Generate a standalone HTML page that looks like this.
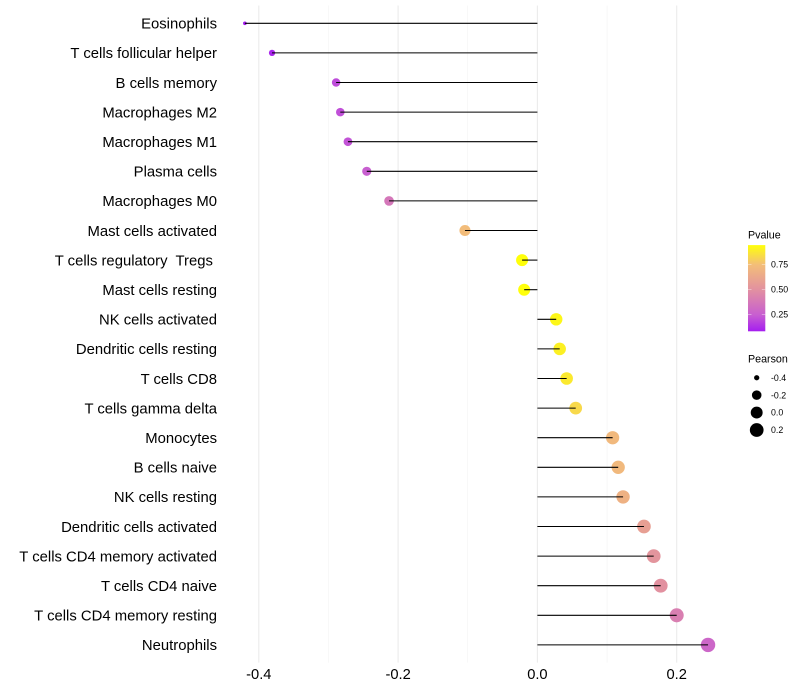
<!DOCTYPE html>
<html lang="en">
<head>
<meta charset="utf-8">
<title>Immune cell correlation lollipop chart</title>
<style>
html,body{margin:0;padding:0;background:#fff;width:800px;height:700px;overflow:hidden}
svg{display:block;font-family:"Liberation Sans",Arial,sans-serif}
text{white-space:pre}
</style>
</head>
<body>
<svg id="chart" width="800" height="700" viewBox="0 0 800 700" xmlns="http://www.w3.org/2000/svg">
  <rect width="800" height="700" fill="#ffffff"/>
  <g id="grid"></g>
  <g id="y-labels"></g>
  <g id="x-labels"></g>
  <g id="marks"></g>
  <g id="legend-p">
    <text x="748" y="238.6" font-size="10.7" fill="#000">Pvalue</text>
    <defs><linearGradient id="pgrad" x1="0" y1="1" x2="0" y2="0"></linearGradient></defs>
    <rect id="pbar" x="748" width="17.3" fill="url(#pgrad)"/>
  </g>
  <g id="legend-s">
    <text x="748" y="362.6" font-size="10.7" fill="#000">Pearson</text>
  </g>
</svg>
<script>
const categories = ["Eosinophils","T cells follicular helper","B cells memory","Macrophages M2","Macrophages M1","Plasma cells","Macrophages M0","Mast cells activated","T cells regulatory  Tregs ","Mast cells resting","NK cells activated","Dendritic cells resting","T cells CD8","T cells gamma delta","Monocytes","B cells naive","NK cells resting","Dendritic cells activated","T cells CD4 memory activated","T cells CD4 naive","T cells CD4 memory resting","Neutrophils"];
const pearson = [-0.42,-0.381,-0.289,-0.283,-0.272,-0.245,-0.213,-0.104,-0.022,-0.019,0.027,0.032,0.042,0.055,0.108,0.116,0.123,0.153,0.167,0.177,0.2,0.245];
const pvalues = [0.08,0.10,0.20,0.21,0.22,0.25,0.37,0.74,0.945,0.945,0.92,0.90,0.88,0.83,0.72,0.72,0.68,0.58,0.52,0.5,0.41,0.29];
const xTicks = [-0.4,-0.2,0,0.2];
const xMinorTicks = [-0.3,-0.1,0.1];
const xTickLabels = ["-0.4","-0.2","0.0","0.2"];
const pTicks = [0.25,0.5,0.75];
const pTickLabels = ["0.25","0.50","0.75"];
const sizeTicks = [-0.4,-0.2,0,0.2];
const sizeTickLabels = ["-0.4","-0.2","0.0","0.2"];

const NS = "http://www.w3.org/2000/svg";
function make(tag, attrs, parent, txt){
  const el = document.createElementNS(NS, tag);
  for (const k in attrs) el.setAttribute(k, attrs[k]);
  if (txt !== undefined) el.textContent = txt;
  parent.appendChild(el);
  return el;
}
function slug(s){ return s.trim().toLowerCase().replace(/[^a-z0-9]+/g,'-'); }

// axis functions
const panelTop = 5.54, panelBottom = 662.66;
const xScale = v => 537.4 + v * 696.5;
const rowStep = (panelBottom - panelTop) / (categories.length - 1 + 1.2);
const yScale = i => panelTop + (i + 0.6) * rowStep;
const rScale = v => {
  const lo = Math.min(...pearson), hi = Math.max(...pearson);
  const t = Math.max(0, (v - lo) / (hi - lo));
  return 1.6 + 5.35 * Math.sqrt(t);
};
const pY = p => 314.6 - (p - 0.25) * 100;
const pMin = 0.083, pMax = 0.945;
const colorStops = [[0.083,[165,30,240]],[0.25,[200,95,208]],[0.5,[226,145,160]],[0.75,[243,190,120]],[0.945,[255,255,10]]];
function pColor(p){
  const c = Math.max(pMin, Math.min(pMax, p));
  for (let i = 1; i < colorStops.length; i++){
    if (c <= colorStops[i][0]){
      const a = colorStops[i-1], b = colorStops[i];
      const t = (c - a[0]) / (b[0] - a[0]);
      const rgb = a[1].map((q, j) => Math.round(q + (b[1][j] - q) * t));
      return "rgb(" + rgb.join(",") + ")";
    }
  }
  return "rgb(255,255,10)";
}

// gridlines
const grid = document.getElementById('grid');
xMinorTicks.forEach(t => {
  const l = make('line', {x1:xScale(t), x2:xScale(t), y1:panelTop, y2:panelBottom, stroke:'#f2f2f2', 'stroke-width':0.55}, grid);
  
  
});
xTicks.forEach(t => {
  const l = make('line', {x1:xScale(t), x2:xScale(t), y1:panelTop, y2:panelBottom, stroke:'#ebebeb', 'stroke-width':1.07}, grid);
  
  
});

// x tick labels
const xl = document.getElementById('x-labels');
xTicks.forEach((t, i) => {
  const el = make('text', {x:xScale(t), y:679, 'font-size':14.7, 'text-anchor':'middle', fill:'#000'}, xl, xTickLabels[i]);
  
  
});

// y tick labels
const yl = document.getElementById('y-labels');
categories.forEach((c, i) => {
  const el = make('text', {x:217, y:yScale(i) + 5.3, 'font-size':14.85, 'text-anchor':'end', fill:'#000'}, yl, c);
  
  
});

// points then segments (segments drawn on top)
const marks = document.getElementById('marks');
categories.forEach((c, i) => {
  const pt = make('circle', {cx:xScale(pearson[i]), cy:yScale(i), r:rScale(pearson[i]) + 0.25, fill:pColor(pvalues[i])}, marks);
  
  
});
categories.forEach((c, i) => {
  const seg = make('line', {x1:xScale(0), x2:xScale(pearson[i]), y1:yScale(i), y2:yScale(i), stroke:'#000', 'stroke-width':1.07}, marks);
  
  
});

// colour legend
const grad = document.getElementById('pgrad');
colorStops.forEach(s => {
  make('stop', {offset:(s[0]-pMin)/(pMax-pMin), 'stop-color':'rgb(' + s[1].join(',') + ')'}, grad);
});
const bar = document.getElementById('pbar');
bar.setAttribute('y', pY(pMax));
bar.setAttribute('height', pY(pMin) - pY(pMax));
const lp = document.getElementById('legend-p');
pTicks.forEach((p, i) => {
  const t1 = make('line', {x1:748, x2:751.5, y1:pY(p), y2:pY(p), stroke:'#fff', 'stroke-opacity':0.7, 'stroke-width':0.55}, lp);
  
  
  const t2 = make('line', {x1:761.8, x2:765.3, y1:pY(p), y2:pY(p), stroke:'#fff', 'stroke-opacity':0.7, 'stroke-width':0.55}, lp);
  
  
  const tx = make('text', {x:771, y:pY(p) + 3.1, 'font-size':8.8, fill:'#000'}, lp, pTickLabels[i]);
  
  
});

// size legend
const ls = document.getElementById('legend-s');
const keyY = i => 377.7 + i * 17.45;
sizeTicks.forEach((v, i) => {
  const k = make('circle', {cx:756.7, cy:keyY(i), r:rScale(v) + 0.1, fill:'#000'}, ls);
  
  
  const tx = make('text', {x:771, y:keyY(i) + 3.1, 'font-size':8.8, fill:'#000'}, ls, sizeTickLabels[i]);
  
  
});
</script>
</body>
</html>
